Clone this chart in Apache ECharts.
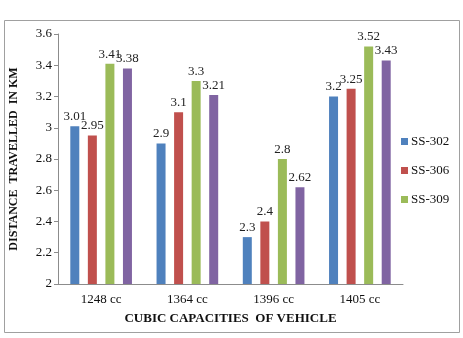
<!DOCTYPE html>
<html>
<head>
<meta charset="utf-8">
<script src="https://cdn.jsdelivr.net/npm/echarts@6/dist/echarts.min.js"></script>
<style>
  html, body { margin: 0; padding: 0; background: #fff; }
  #main { width: 463px; height: 338px; }
</style>
</head>
<body>
<div id="main"></div>
<script>
// Data
var categories = ['1248 cc', '1364 cc', '1396 cc', '1405 cc'];
var seriesNames = ['SS-302', 'SS-306', 'SS-309', 'SS-312'];
var ss302 = [3.01, 2.9, 2.3, 3.2];
var ss306 = [2.95, 3.1, 2.4, 3.25];
var ss309 = [3.41, 3.3, 2.8, 3.52];
var ss312 = [3.38, 3.21, 2.62, 3.43];
var yTicks = [2, 2.2, 2.4, 2.6, 2.8, 3, 3.2, 3.4, 3.6];

var colors = ['#4f81bd', '#c0504d', '#9bbb59', '#8064a2'];
var serif = '"Liberation Serif", "DejaVu Serif", serif';

var myChart = echarts.init(document.getElementById('main'));

function makeSeries(name, data, i) {
	return {
		name: name,
		type: 'bar',
		data: data,
		barWidth: 9,
		barGap: '95%',
		barCategoryGap: '30%',
		itemStyle: { color: colors[i] },
		label: {
			show: true,
			position: 'top',
			distance: 3,
			color: '#222',
			fontFamily: serif,
			fontSize: 13
		}
	};
}

var option = {
	backgroundColor: '#fff',
	animation: false,
	graphic: [{
		type: 'rect',
		shape: { x: 4.5, y: 20.5, width: 455, height: 312 },
		style: { fill: 'none', stroke: '#a0a0a0', lineWidth: 1 }
	}],
	legend: {
		// only three entries fit in the original
		data: seriesNames.slice(0, 3),
		orient: 'vertical',
		left: 396,
		top: 130,
		itemWidth: 7,
		itemHeight: 7,
		itemGap: 16,
		icon: 'rect',
		textStyle: { fontFamily: serif, fontSize: 13, color: '#111', padding: [0, 0, 0, -2] }
	},
	grid: {
		left: 56,
		right: 60,
		top: 34,
		bottom: 54,
		containLabel: false
	},
	xAxis: {
		type: 'category',
		data: categories,
		name: 'CUBIC CAPACITIES  OF VEHICLE',
		nameLocation: 'middle',
		nameGap: 28,
		nameTextStyle: { fontFamily: serif, fontSize: 13, fontWeight: 'bold', color: '#111' },
		axisLine: { lineStyle: { color: '#8c8c8c' } },
		axisTick: { show: false },
		axisLabel: { fontFamily: serif, fontSize: 13, color: '#111', margin: 9 }
	},
	yAxis: {
		type: 'value',
		min: yTicks[0],
		max: yTicks[yTicks.length - 1],
		interval: 0.2,
		name: 'DISTANCE  TRAVELLED  IN KM',
		nameLocation: 'middle',
		nameGap: 38,
		nameTextStyle: { fontFamily: serif, fontSize: 12, fontWeight: 'bold', color: '#111' },
		axisLine: { show: true, lineStyle: { color: '#8c8c8c' } },
		axisTick: { show: true, length: 4, lineStyle: { color: '#8c8c8c' } },
		splitLine: { show: false },
		axisLabel: {
			fontFamily: serif,
			fontSize: 13,
			color: '#111',
			margin: 6,
			formatter: function (v) { return String(Math.round(v * 10) / 10); }
		}
	},
	series: [
		makeSeries(seriesNames[0], ss302, 0),
		makeSeries(seriesNames[1], ss306, 1),
		makeSeries(seriesNames[2], ss309, 2),
		makeSeries(seriesNames[3], ss312, 3)
	]
};

myChart.setOption(option);
</script>
</body>
</html>
